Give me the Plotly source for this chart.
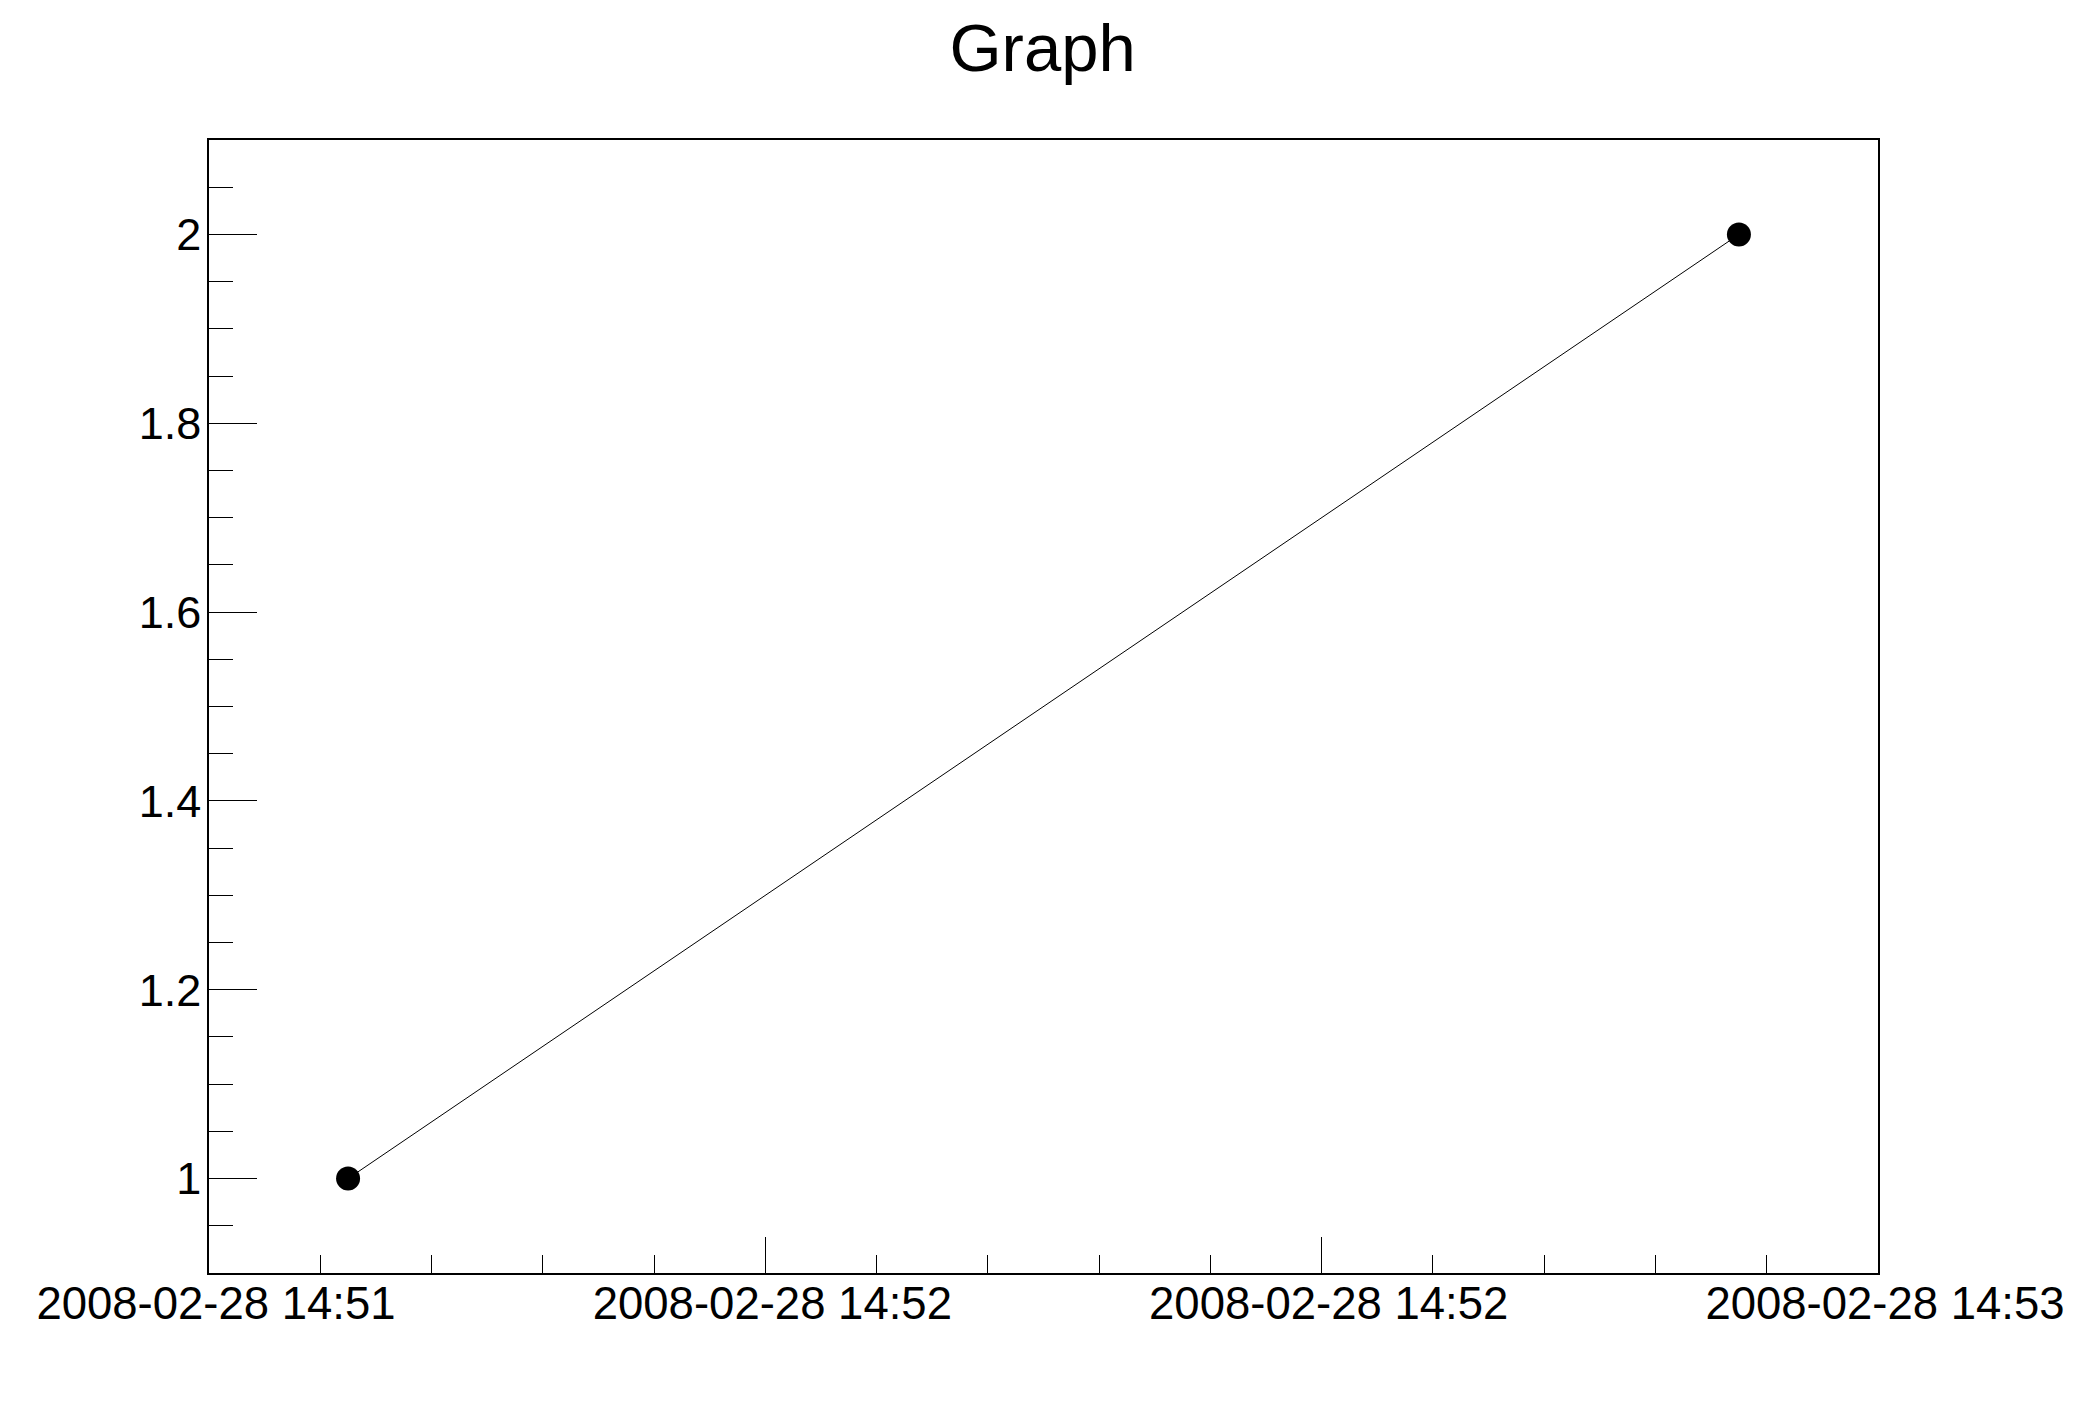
"""
Two-point time graph in the style of a ROOT canvas (TGraph with time axis).
"""
import plotly.graph_objects as go

# data points
times = ["2008-02-28 14:52:00", "2008-02-28 14:53:00"]
values = [1, 2]

# axis settings
x_range = ["2008-02-28 14:51:54", "2008-02-28 14:53:06"]
x_tick0 = "2008-02-28 14:51:54"
y_range = [0.9, 2.1]
y_ticks = [1, 1.2, 1.4, 1.6, 1.8, 2]

FONT = "Liberation Sans, Arial, Helvetica, sans-serif"

fig = go.Figure()
fig.add_trace(
    go.Scatter(
        x=times,
        y=values,
        mode="lines+markers",
        line=dict(color="black", width=1),
        marker=dict(color="black", size=24, symbol="circle"),
        showlegend=False,
    )
)

# the page body has an 8px default margin, so pull everything up/left by that
fig.update_layout(
    width=2088,
    height=1416,
    margin=dict(l=201, r=218, t=132, b=151),
    paper_bgcolor="white",
    plot_bgcolor="white",
    font=dict(family=FONT, color="black", size=45),
    title=dict(
        text="Graph",
        x=0.4955,
        xanchor="center",
        y=0.972,
        yanchor="middle",
        font=dict(family=FONT, size=67, color="black"),
    ),
    xaxis=dict(
        type="date",
        range=x_range,
        tick0=x_tick0,
        dtick=24000,
        tickformat="%Y-%m-%d %H:%M",
        ticks="inside",
        ticklen=36,
        tickwidth=1,
        tickcolor="black",
        ticklabelstandoff=-10,
        ticklabelshift=7,
        minor=dict(tick0=x_tick0, dtick=4800, ticks="inside", ticklen=18,
                   tickwidth=1, tickcolor="black"),
        showline=True,
        linecolor="black",
        linewidth=1.5,
        mirror=True,
        showgrid=False,
        zeroline=False,
        tickfont=dict(size=45.5),
    ),
    yaxis=dict(
        range=y_range,
        tickvals=y_ticks,
        ticktext=[f"{v:g}" for v in y_ticks],
        ticks="inside",
        ticklen=48,
        tickwidth=1,
        tickcolor="black",
        ticklabelstandoff=-3,
        minor=dict(dtick=0.05, tick0=0, ticks="inside", ticklen=24,
                   tickwidth=1, tickcolor="black"),
        showline=True,
        linecolor="black",
        linewidth=1.5,
        mirror=True,
        showgrid=False,
        zeroline=False,
        tickfont=dict(size=45),
    ),
)

fig.write_html("out.html")
